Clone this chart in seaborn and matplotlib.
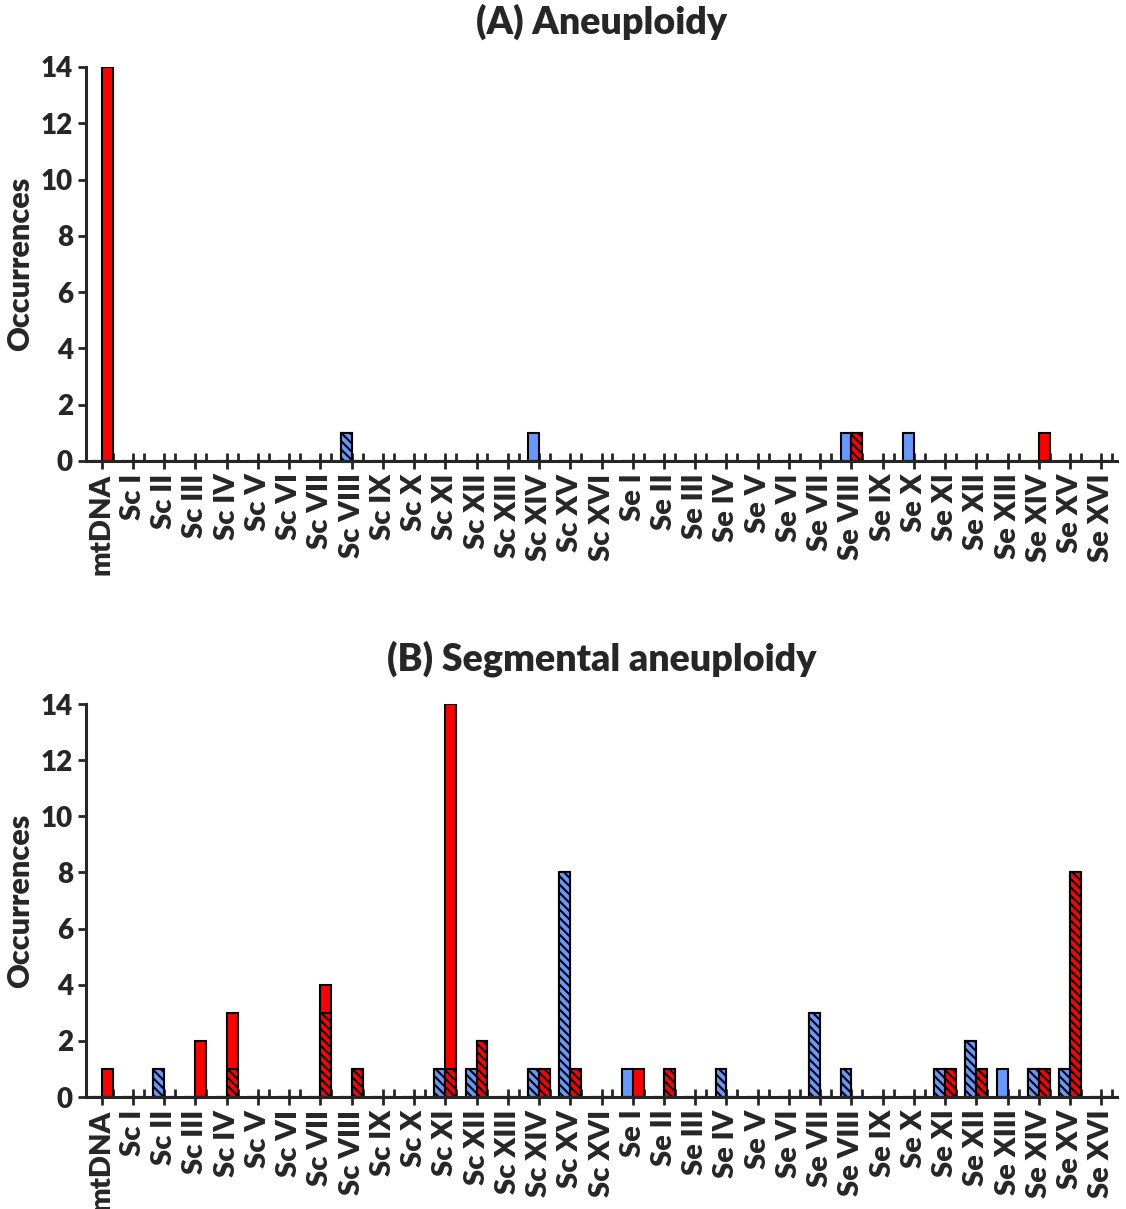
import matplotlib
matplotlib.use("Agg")
import matplotlib.pyplot as plt
from matplotlib.ticker import FixedLocator
import pandas as pd
import seaborn as sns
import numpy as np

romans = ["I", "II", "III", "IV", "V", "VI", "VII", "VIII",
          "IX", "X", "XI", "XII", "XIII", "XIV", "XV", "XVI"]
chromosomes = ["mtDNA"] + ["Sc " + r for r in romans] + ["Se " + r for r in romans]

# values per chromosome: mtDNA | Sc I..XVI | Se I..XVI
# (A) whole chromosome aneuploidy
a_blue_solid = [0] + [0, 0, 0, 0, 0, 0, 0, 0, 0, 0, 0, 0, 0, 1, 0, 0] + [0, 0, 0, 0, 0, 0, 0, 1, 0, 1, 0, 0, 0, 0, 0, 0]
a_blue_hatch = [0] + [0, 0, 0, 0, 0, 0, 0, 1, 0, 0, 0, 0, 0, 0, 0, 0] + [0, 0, 0, 0, 0, 0, 0, 0, 0, 0, 0, 0, 0, 0, 0, 0]
a_red_solid = [14] + [0, 0, 0, 0, 0, 0, 0, 0, 0, 0, 0, 0, 0, 0, 0, 0] + [0, 0, 0, 0, 0, 0, 0, 0, 0, 0, 0, 0, 0, 1, 0, 0]
a_red_hatch = [0] + [0, 0, 0, 0, 0, 0, 0, 0, 0, 0, 0, 0, 0, 0, 0, 0] + [0, 0, 0, 0, 0, 0, 0, 1, 0, 0, 0, 0, 0, 0, 0, 0]

# (B) segmental aneuploidy
b_blue_solid = [0] + [0, 0, 0, 0, 0, 0, 0, 0, 0, 0, 0, 0, 0, 0, 0, 0] + [1, 0, 0, 0, 0, 0, 0, 0, 0, 0, 0, 0, 1, 0, 0, 0]
b_blue_hatch = [0] + [0, 1, 0, 0, 0, 0, 0, 0, 0, 0, 1, 1, 0, 1, 8, 0] + [0, 0, 0, 1, 0, 0, 3, 1, 0, 0, 1, 2, 0, 1, 1, 0]
b_red_solid = [1] + [0, 0, 2, 2, 0, 0, 1, 0, 0, 0, 13, 0, 0, 0, 0, 0] + [1, 0, 0, 0, 0, 0, 0, 0, 0, 0, 0, 0, 0, 0, 0, 0]
b_red_hatch = [0] + [0, 0, 0, 1, 0, 0, 3, 1, 0, 0, 1, 2, 0, 1, 1, 0] + [0, 1, 0, 0, 0, 0, 0, 0, 0, 0, 1, 1, 0, 1, 8, 0]

colors = {"blue": "#6699ff", "red": "#ff0000"}

sns.set_style("ticks")
plt.rcParams["font.family"] = ["Lato", "DejaVu Sans"]
plt.rcParams["font.weight"] = "heavy"
plt.rcParams["hatch.linewidth"] = 1.5


def draw_panel(ax, title, blue_solid, blue_hatch, red_solid, red_hatch):
    n = len(chromosomes)
    df = pd.DataFrame({
        "chrom": chromosomes * 2,
        "group": ["blue"] * n + ["red"] * n,
        "hatched": blue_hatch + red_hatch,
        "total": list(np.add(blue_hatch, blue_solid)) + list(np.add(red_hatch, red_solid)),
    })
    common = dict(data=df, x="chrom", hue="group", order=chromosomes,
                  hue_order=["blue", "red"], palette=colors, saturation=1,
                  dodge=True, width=0.7, gap=0, errorbar=None, legend=False,
                  edgecolor="black", linewidth=1.5, ax=ax)
    # full stack in solid colour, then the hatched part from the base on top
    sns.barplot(y="total", **common)
    sns.barplot(y="hatched", hatch="\\\\\\\\", **common)

    ax.set_xlim(-0.5, n - 0.5)
    ax.set_ylim(0, 14)
    ax.set_yticks(range(0, 15, 2))
    ax.set_xticks(range(n))
    ax.set_xticklabels(chromosomes, rotation=90, fontsize=21, fontweight="heavy")
    ax.xaxis.set_minor_locator(FixedLocator(np.arange(n) + 0.35))
    ax.tick_params(axis="x", which="major", direction="inout", length=11, width=2)
    ax.tick_params(axis="x", which="minor", direction="in", length=6, width=2)
    ax.tick_params(axis="y", which="major", direction="out", length=6, width=2, labelsize=20)
    for lab in ax.get_yticklabels():
        lab.set_fontweight("heavy")
    ax.set_xlabel("")
    ax.set_ylabel("Occurrences", fontsize=22, fontweight="heavy", labelpad=5)
    ax.set_title(title, fontsize=27, fontweight="heavy", pad=24)
    sns.despine(ax=ax)
    for s in ["left", "bottom"]:
        ax.spines[s].set_linewidth(2.2)


fig = plt.figure(figsize=(11.26, 12.09), dpi=100)
ax_a = fig.add_axes([0.0764, 0.6187, 0.9156, 0.3259])
ax_b = fig.add_axes([0.0764, 0.0926, 0.9156, 0.3251])

draw_panel(ax_a, "(A) Aneuploidy", a_blue_solid, a_blue_hatch, a_red_solid, a_red_hatch)
draw_panel(ax_b, "(B) Segmental aneuploidy", b_blue_solid, b_blue_hatch, b_red_solid, b_red_hatch)

fig.savefig("out.png", dpi=100)
